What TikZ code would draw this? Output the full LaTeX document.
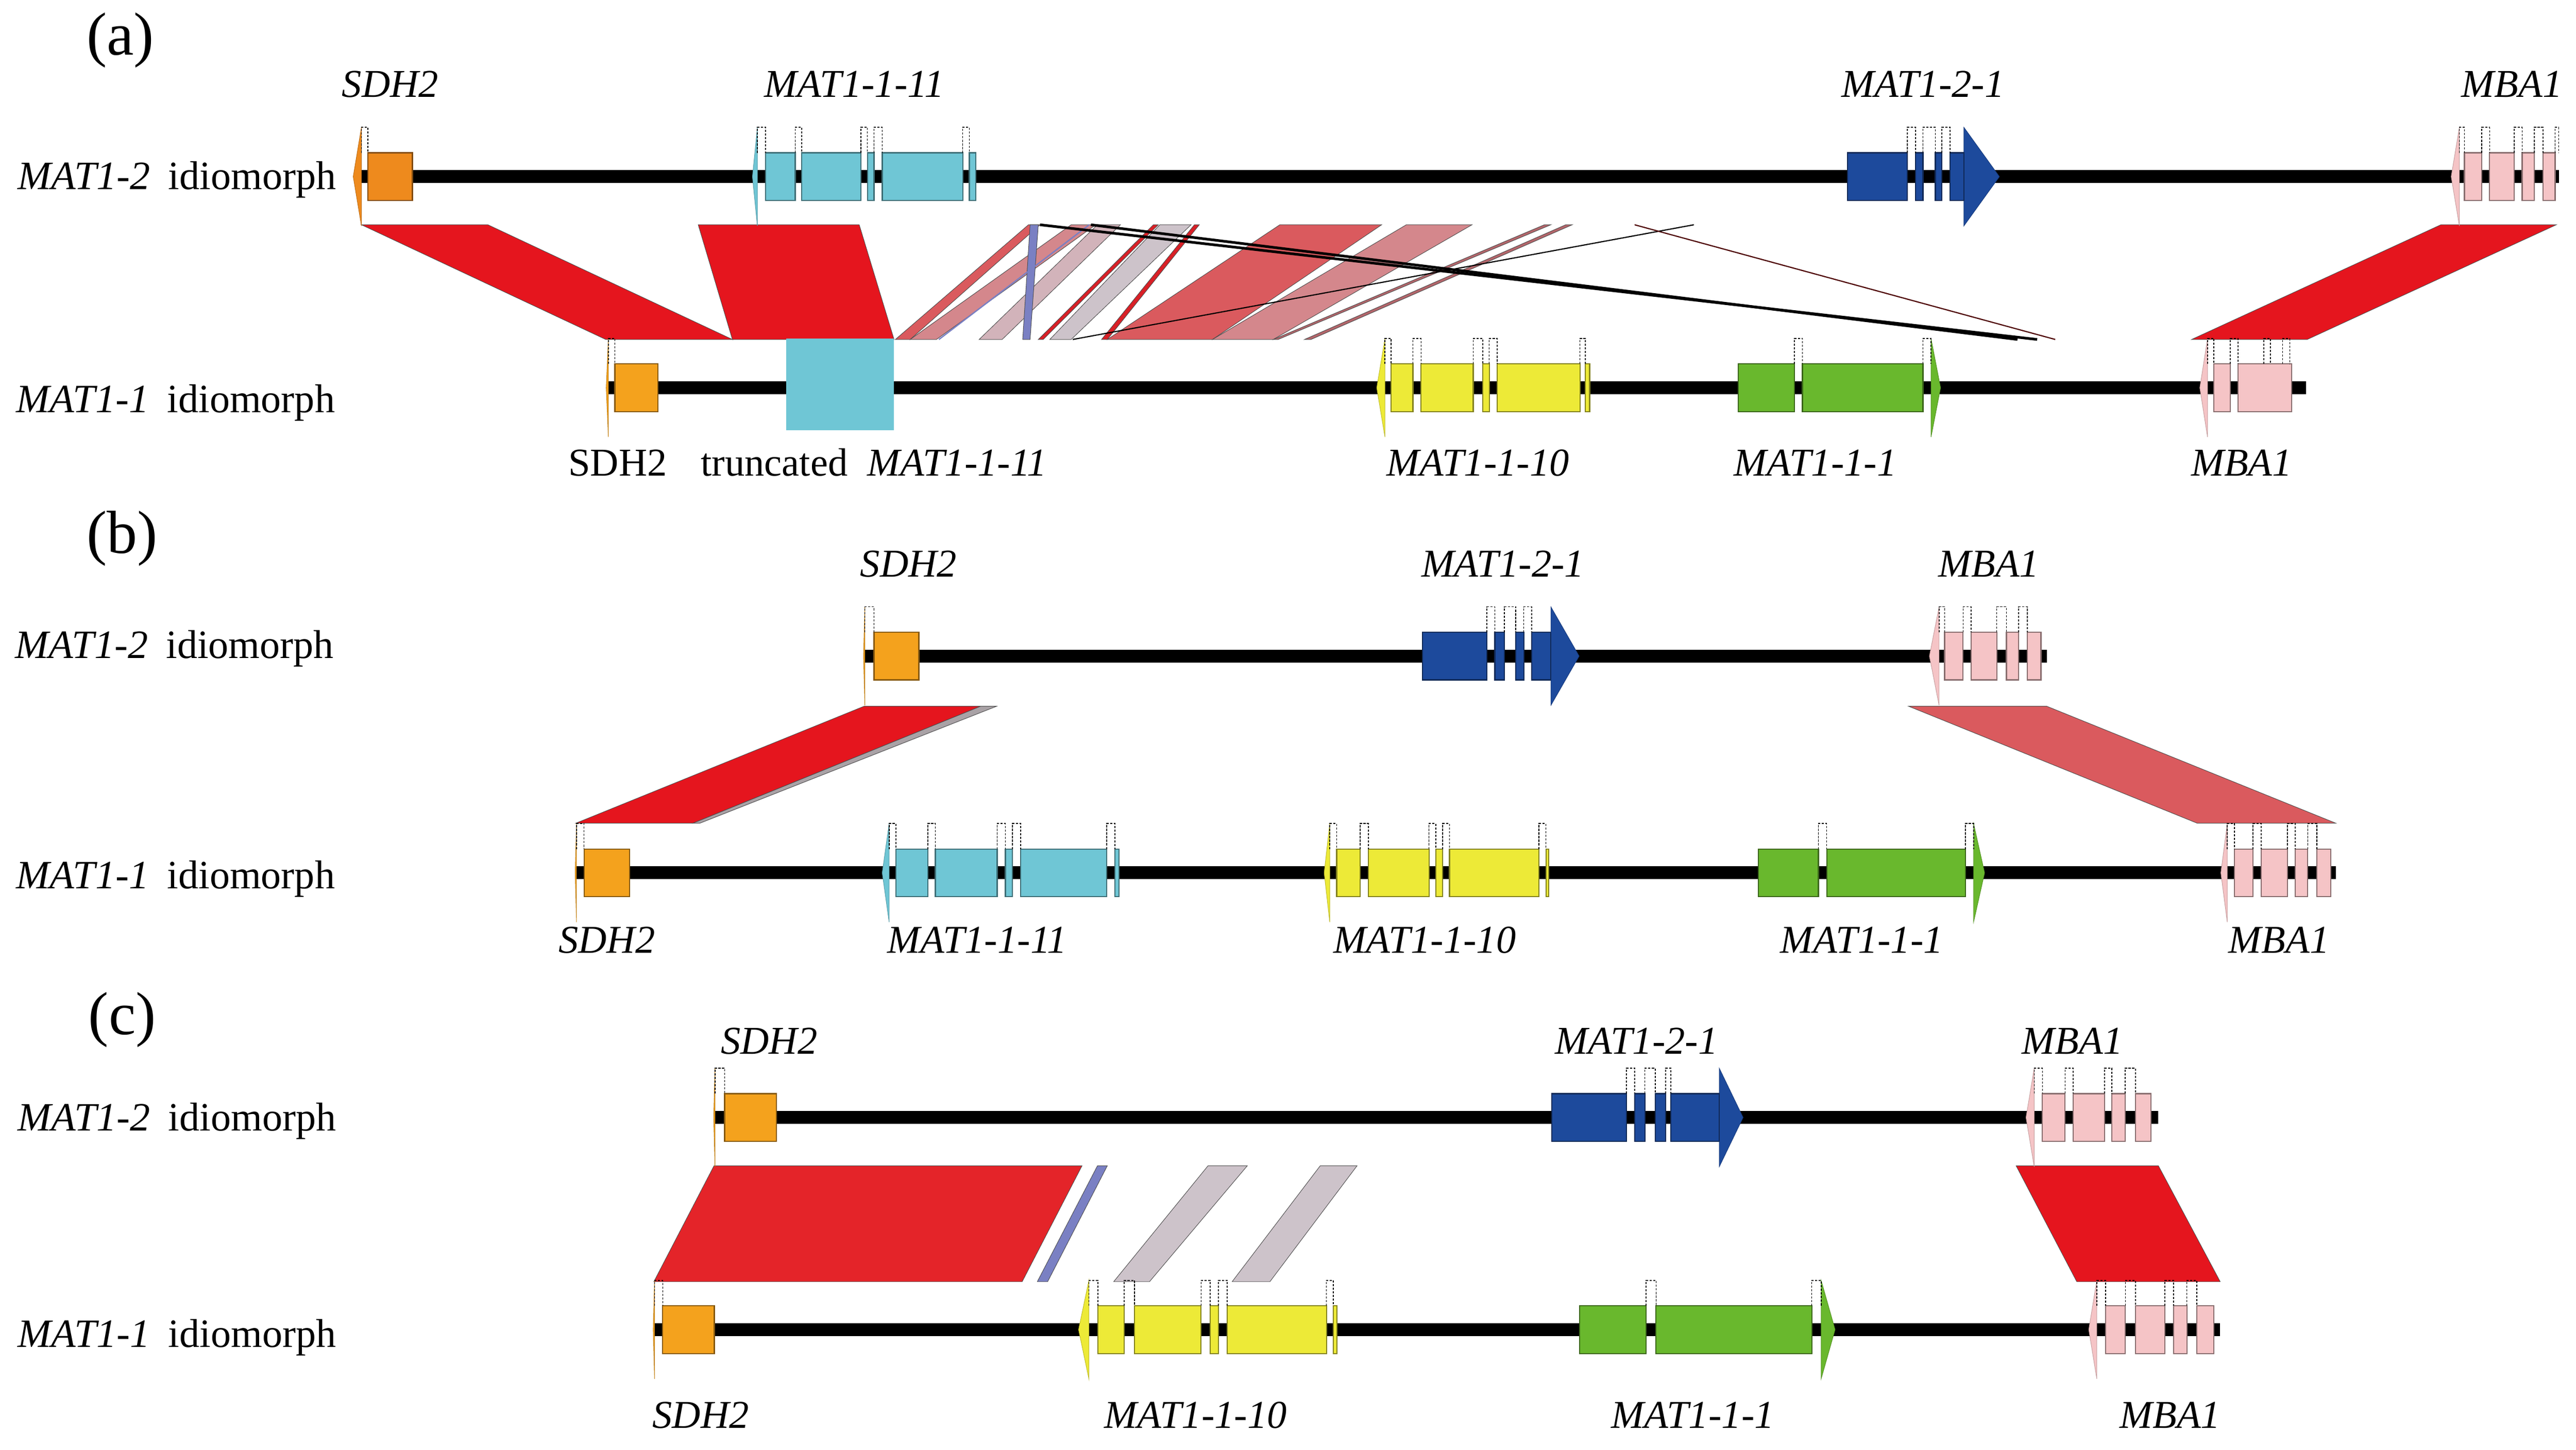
\documentclass[tikz,border=0pt]{standalone}
\usepackage{fontspec}
\setmainfont{Liberation Serif}
\usepackage{xcolor}
\usepackage{tikz}

\definecolor{sdhA}{HTML}{EE8A1D}
\definecolor{sdh}{HTML}{F4A21D}
\definecolor{mat11}{HTML}{6FC6D5}
\definecolor{mat10}{HTML}{EDEA37}
\definecolor{mat1}{HTML}{69B82D}
\definecolor{mat21}{HTML}{1D4A9C}
\definecolor{mba}{HTML}{F5C4C6}
\definecolor{hitA}{HTML}{E5151E}
\definecolor{hitAc}{HTML}{E42429}
\definecolor{hitB}{HTML}{DA5A5E}
\definecolor{hitC}{HTML}{D4878C}
\definecolor{hitD}{HTML}{D2B3BA}
\definecolor{hitE}{HTML}{CDC3CA}
\definecolor{hitG}{HTML}{A9A2A6}
\definecolor{hitR}{HTML}{D92027}
\definecolor{hitF}{HTML}{B4666B}
\definecolor{hitInv}{HTML}{7A80C3}

% gene: colour, tip, base of the strand triangle, exons, intron marks
\newcommand{\genemodel}[5]{%
  \filldraw[fill=#1, draw=#1!80!black, line width=0.3pt] (#3,-30) -- (#2,0) -- (#3,30) -- cycle;
  \foreach \xa/\xb in {#4}
    \filldraw[exon, fill=#1, draw=#1!55!black] (\xa,-14.5) rectangle (\xb,14.5);
  \foreach \xa/\xb in {#5}
    \draw[intron] (\xa,-14.5) |- (\xb,-30) -- (\xb,-14.5);
}

\begin{document}
\begin{tikzpicture}[x=1pt, y=-1pt,
    backbone/.style={line width=7.8pt, black},
    exon/.style={line width=0.7pt},
    intron/.style={black, line width=0.5pt, dash pattern=on 1.3pt off 0.9pt},
    hit/.style={draw=black!70, line width=0.3pt},
    glab/.style={font=\fontsize{24}{28}\selectfont\itshape, anchor=base, inner sep=0pt},
    nlab/.style={font=\fontsize{24}{28}\selectfont, anchor=base, inner sep=0pt},
    rowlab/.style={font=\fontsize{24.5}{29}\selectfont, anchor=base west, inner sep=0pt},
    panel/.style={font=\fontsize{37}{40}\selectfont, inner sep=0pt}]
    \useasboundingbox (0,0) rectangle (1568,882.4);

    % Panel labels and idiomorph names
    \node[panel] (pa) at (73.3,24.5) {(a)};
    \node[panel] (pb) at (74.4,327.8) {(b)};
    \node[panel] (pc) at (74.4,620.6) {(c)};
    \node[rowlab] (a2name) at (10.5,115.2) {\textit{MAT1-2}\hspace{0.45em}idiomorph};
    \node[rowlab] (a1name) at (9.8,251) {\textit{MAT1-1}\hspace{0.45em}idiomorph};
    \node[rowlab] (b2name) at (9.1,400.5) {\textit{MAT1-2}\hspace{0.45em}idiomorph};
    \node[rowlab] (b1name) at (9.8,540.8) {\textit{MAT1-1}\hspace{0.45em}idiomorph};
    \node[rowlab] (c2name) at (10.5,688.3) {\textit{MAT1-2}\hspace{0.45em}idiomorph};
    \node[rowlab] (c1name) at (10.5,819.8) {\textit{MAT1-1}\hspace{0.45em}idiomorph};

    % (a) blast hits
    \foreach \tl/\tr/\bl/\br/\col in {220/297/368.7/445.8/hitA, 425/523/445.8/544.2/hitA,
        779/841/674/738/hitB, 856/896/738/775/hitC, 652/667/554/570/hitC,
        668/682/596/610/hitD, 706/725/639/652/hitE, 626/633/545/554/hitB,
        627/632/622.5/627/hitInv, 702/705/632/635/hitR, 727/730/670.5/674/hitR,
        940/944/775/778/hitF, 953/957/794/798/hitF, 1485.7/1556/1334/1404.4/hitA}
      \filldraw[hit, fill=\col] (\tl,136.8) -- (\tr,136.8) -- (\br,206.6) -- (\bl,206.6) -- cycle;
    \draw[hitInv, line width=0.8pt] (663,136.8) -- (571.5,206.6);
    \draw[black, line width=1.6pt] (633,136.8) -- (1240,206.6);
    \draw[black, line width=1.6pt] (664,136.8) -- (1228,206.6);
    \draw[black, line width=0.7pt] (1031,136.8) -- (653,206.6);
    \draw[black!70!red, line width=0.7pt] (995,136.8) -- (1251,206.6);

    % (b) blast hits
    \foreach \tl/\tr/\bl/\br/\col in {526/597/350.5/421.8/hitA, 597/606.7/421.8/426/hitG,
        1161.7/1245.8/1337.4/1421.8/hitB}
      \filldraw[hit, fill=\col] (\tl,429.8) -- (\tr,429.8) -- (\br,501) -- (\bl,501) -- cycle;

    % (c) blast hits
    \foreach \tl/\tr/\bl/\br/\col in {434.6/658.6/398/622.2/hitAc, 668/674/631.4/637.7/hitInv,
        735.3/759.2/677.9/699.7/hitE, 803.6/826/750/773/hitE, 1227.2/1313.8/1264.1/1351.4/hitA}
      \filldraw[hit, fill=\col] (\tl,709.5) -- (\tr,709.5) -- (\br,780) -- (\bl,780) -- cycle;

    % (a) MAT1-2 idiomorph
    \begin{scope}[shift={(0,107.5)}]
      \draw[backbone] (216,0) -- (1557.5,0);
      \genemodel{sdhA}{215}{220}{224/251}{220/224}
      \genemodel{mat11}{458}{461}{466/484,488/524,528/532,537/586,590/594}{461/466,484/488,524/528,532/537,586/590}
      \genemodel{mat21}{1217}{1195.4}{1124.6/1161,1166/1170.5,1178/1182,1187/1195.4}{1161/1166,1170.5/1178,1182/1187}
      \genemodel{mba}{1492}{1497}{1500.1/1510.6,1515.4/1530.4,1535.2/1542.5,1547.9/1555.3}{1497/1500.1,1510.6/1515.4,1530.4/1535.2,1542.5/1547.9,1555.3/1557.5}
    \end{scope}
    \node[glab] (a2sdh) at (237.5,59) {SDH2};
    \node[glab] (a2mat11) at (520,59) {MAT1-1-11};
    \node[glab] (a2mat21) at (1170.5,59) {MAT1-2-1};
    \node[glab] (a2mba) at (1529,59) {MBA1};

    % (a) MAT1-1 idiomorph
    \begin{scope}[shift={(0,236)}]
      \draw[backbone] (370,0) -- (1403.7,0);
      \genemodel{sdh}{369}{370.3}{374.3/400.4}{370.3/374.3}
      \fill[mat11] (478.7,-30) rectangle (544.2,26);
      \genemodel{mat10}{838}{843}{846.8/860,865/896.7,902.5/906.5,911.3/961.7,965/967.6}{843/846.8,860/865,896.7/902.5,906.5/911.3,961.7/965}
      \genemodel{mat1}{1181.2}{1175.4}{1058/1092.2,1097.1/1170.5}{1092.2/1097.1,1170.5/1175.4}
      \genemodel{mba}{1339}{1343.7}{1347.6/1357.5,1362.2/1394.8}{1343.7/1347.6,1357.5/1362.2,1377.9/1382,1389.4/1393.8}
    \end{scope}
    \node[nlab] (a1sdh) at (376,289.5) {SDH2};
    \node[nlab, anchor=base west] (a1trunc) at (426.5,289.5) {truncated\hspace{0.5em}\textit{MAT1-1-11}};
    \node[glab] (a1mat10) at (899.6,289.5) {MAT1-1-10};
    \node[glab] (a1mat1) at (1105,289.5) {MAT1-1-1};
    \node[glab] (a1mba) at (1364.5,289.5) {MBA1};

    % (b) MAT1-2 idiomorph
    \begin{scope}[shift={(0,399.3)}]
      \draw[backbone] (526,0) -- (1245.8,0);
      \genemodel{sdh}{525.6}{526.4}{532/559.3}{526.4/532}
      \genemodel{mat21}{961.2}{944}{865.9/905,909.9/915.7,922.6/927.5,932.4/944}{905/909.9,915.7/922.6,927.5/932.4}
      \genemodel{mba}{1174.4}{1180.3}{1183.7/1194.9,1199.8/1215.4,1221.3/1228.7,1234/1242.3}{1180.3/1183.7,1194.9/1199.8,1215.4/1221.3,1228.7/1234}
    \end{scope}
    \node[glab] (b2sdh) at (553,351) {SDH2};
    \node[glab] (b2mat21) at (914.8,351) {MAT1-2-1};
    \node[glab] (b2mba) at (1210.6,351) {MBA1};

    % (b) MAT1-1 idiomorph
    \begin{scope}[shift={(0,531.2)}]
      \draw[backbone] (350.5,0) -- (1421.8,0);
      \genemodel{sdh}{350.1}{350.9}{355.5/383.2}{350.9/355.5}
      \genemodel{mat11}{537}{541.2}{545.4/564.7,569.3/607,612/616.2,621.2/673.6,678.7/681.2}{541.2/545.4,564.7/569.3,607/612,616.2/621.2,673.6/678.7}
      \genemodel{mat10}{806}{809.4}{813.6/827.8,832.9/869.8,874/878.1,882.3/936.8,941/942.7}{809.4/813.6,827.8/832.9,869.8/874,878.1/882.3,936.8/941}
      \genemodel{mat1}{1208}{1201.3}{1070.3/1106.8,1111.9/1196.3}{1106.8/1111.9,1196.3/1201.3}
      \genemodel{mba}{1351.8}{1355.7}{1360/1371.3,1376.3/1392.3,1397/1404.7,1410.2/1418.7}{1355.7/1360,1371.3/1376.3,1392.3/1397,1404.7/1410.2}
    \end{scope}
    \node[glab] (b1sdh) at (369.4,580) {SDH2};
    \node[glab] (b1mat11) at (594.8,580) {MAT1-1-11};
    \node[glab] (b1mat10) at (867.2,580) {MAT1-1-10};
    \node[glab] (b1mat1) at (1133.3,580) {MAT1-1-1};
    \node[glab] (b1mba) at (1387.2,580) {MBA1};

    % (c) MAT1-2 idiomorph
    \begin{scope}[shift={(0,680.1)}]
      \draw[backbone] (434.8,0) -- (1313.6,0);
      \genemodel{sdh}{434.4}{435.2}{441.1/472.6}{435.2/441.1}
      \genemodel{mat21}{1061}{1046.5}{944.6/990,995/1001.2,1007.5/1013.8,1017/1046.5}{990/995,1001.2/1007.5,1013.8/1017}
      \genemodel{mba}{1233.2}{1238.2}{1243.2/1257,1262/1281,1285.4/1293.5,1299.8/1309.2}{1238.2/1243.2,1257/1262,1281/1285.4,1293.5/1299.8}
    \end{scope}
    \node[glab] (c2sdh) at (468.2,641.5) {SDH2};
    \node[glab] (c2mat21) at (996.2,641.5) {MAT1-2-1};
    \node[glab] (c2mba) at (1261.5,641.5) {MBA1};

    % (c) MAT1-1 idiomorph
    \begin{scope}[shift={(0,809.2)}]
      \draw[backbone] (398,0) -- (1351.4,0);
      \genemodel{sdh}{397.6}{398.4}{403.4/434.8}{398.4/403.4}
      \genemodel{mat10}{656.5}{662.8}{668.3/684.2,690.5/731.1,736.6/741.6,747/807.4,811.6/813.7}{662.8/668.3,684.2/690.5,731.1/736.6,741.6/747,807.4/811.6}
      \genemodel{mat1}{1117}{1108.5}{961.5/1002,1008/1102.8}{1002/1008,1102.8/1108.5}
      \genemodel{mba}{1271.4}{1276.3}{1281.6/1293.7,1299.8/1317.7,1323/1331.1,1337.2/1347.4}{1276.3/1281.6,1293.7/1299.8,1317.7/1323,1331.1/1337.2}
    \end{scope}
    \node[glab] (c1sdh) at (426.5,869) {SDH2};
    \node[glab] (c1mat10) at (727.8,869) {MAT1-1-10};
    \node[glab] (c1mat1) at (1030.4,869) {MAT1-1-1};
    \node[glab] (c1mba) at (1321,869) {MBA1};
\end{tikzpicture}
\end{document}
